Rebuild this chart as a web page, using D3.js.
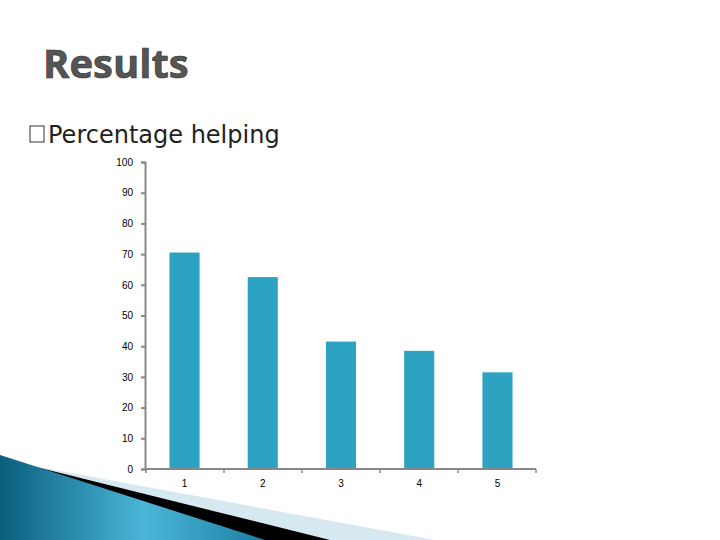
<!DOCTYPE html>
<html><head><meta charset="utf-8">
<script src="https://cdn.jsdelivr.net/npm/d3@7"></script>
<style>body{margin:0;background:#fff}</style></head>
<body><svg id="c" width="720" height="540"></svg>
<script>
const categories=["1","2","3","4","5"];
const values=[70.5,62.5,41.5,38.5,31.5];
const yTicks=[0,10,20,30,40,50,60,70,80,90,100];
const svg=d3.select("#c");
const defs=svg.append("defs");
const g1=defs.append("linearGradient").attr("id","gb").attr("x1","0").attr("y1","0").attr("x2","1").attr("y2","0");
g1.append("stop").attr("offset","0").attr("stop-color","#0a5f7e");
g1.append("stop").attr("offset","0.55").attr("stop-color","#4bb6d8");
g1.append("stop").attr("offset","1").attr("stop-color","#1a7fa2");
// decoration
svg.append("path").attr("d","M0,460 L435,540 L0,540Z").attr("fill","#d6e9f0");
svg.append("path").attr("d","M0,458 L330,540 L0,540Z").attr("fill","#000");
svg.append("path").attr("d","M0,455 L265,540 L0,540Z").attr("fill","url(#gb)");
svg.append("text").attr("x",43).attr("y",78).attr("font-family","Open Sans, sans-serif").attr("font-weight","bold").attr("font-size",40).attr("fill","#555").attr("stroke","#333").attr("stroke-width",0.6).text("Results");
svg.append("rect").attr("x",30).attr("y",126).attr("width",14).attr("height",16).attr("fill","none").attr("stroke","#333").attr("stroke-width",1);
svg.append("text").attr("x",48).attr("y",143).attr("font-family","DejaVu Sans, sans-serif").attr("font-size",24).attr("fill","#222").text("Percentage  helping");
const x=d3.scaleBand().domain(categories).range([146,536]).paddingInner(0.615).paddingOuter(0.3);
const y=d3.scaleLinear().domain([0,100]).range([469,162]);
svg.selectAll(".bar").data(values).join("rect").attr("x",(d,i)=>x(categories[i])).attr("y",d=>y(d)).attr("width",x.bandwidth()).attr("height",d=>y(0)-y(d)).attr("fill","#2ea3c1");
const ya=svg.append("g").attr("transform","translate(145,0)").call(d3.axisLeft(y).tickValues(yTicks).tickSize(4).tickPadding(8));
ya.selectAll("text").attr("font-family","Liberation Sans, Arial").attr("font-size",10).attr("fill","#000");
ya.selectAll("line,path").attr("stroke","#888").attr("stroke-width",2);
const xa=svg.append("g").attr("transform","translate(0,469)");
xa.append("line").attr("x1",145).attr("x2",536).attr("stroke","#888").attr("stroke-width",2);
const step=x.step();
xa.selectAll(".t").data(d3.range(6)).join("line").attr("x1",d=>146+d*78).attr("x2",d=>146+d*78).attr("y1",0).attr("y2",4).attr("stroke","#888").attr("stroke-width",1.5);
xa.selectAll(".l").data(categories).join("text").attr("x",d=>x(d)+x.bandwidth()/2).attr("y",18).attr("text-anchor","middle").attr("font-family","Liberation Sans, Arial").attr("font-size",10).text(d=>d);
</script></body></html>
